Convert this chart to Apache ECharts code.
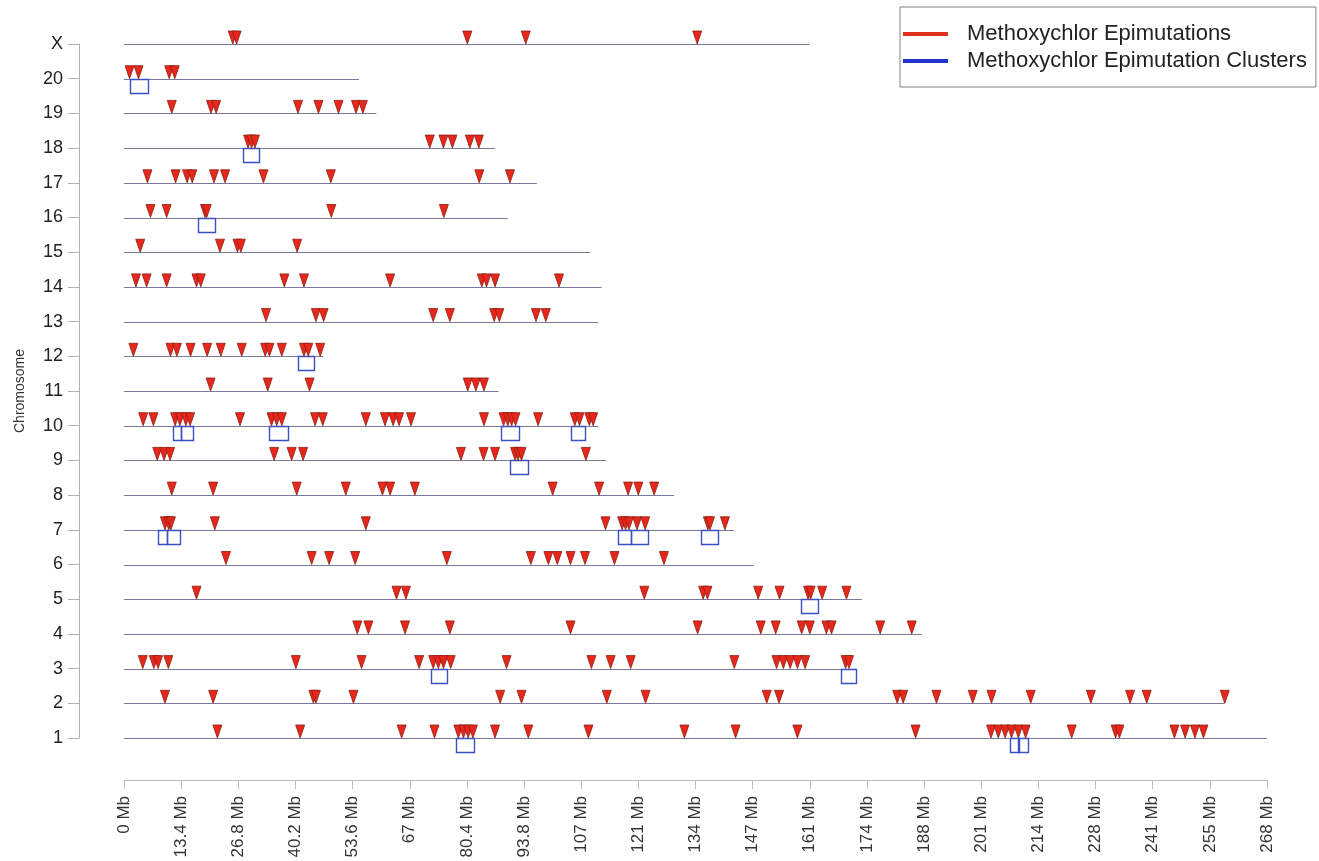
<!DOCTYPE html>
<html>
<head>
<meta charset="utf-8">
<script src="https://cdn.jsdelivr.net/npm/echarts@6/dist/echarts.min.js"></script>
<style>
html,body{margin:0;padding:0;background:#fff;}
#chart{width:1319px;height:861px;}
</style>
</head>
<body>
<div id="chart"></div>
<script>
// ---- DATA ----
const chromosomes = ['1','2','3','4','5','6','7','8','9','10','11','12','13','14','15','16','17','18','19','20','X'];
const chromLengthsMb = [268, 258, 171, 187, 173, 147.6, 143, 129, 113, 111.2, 87.8, 46.7, 111.2, 112, 109.3, 90, 96.8, 87, 59.2, 55.1, 160.7];
const xTickLabels = ['0 Mb','13.4 Mb','26.8 Mb','40.2 Mb','53.6 Mb','67 Mb','80.4 Mb','93.8 Mb','107 Mb','121 Mb','134 Mb','147 Mb','161 Mb','174 Mb','188 Mb','201 Mb','214 Mb','228 Mb','241 Mb','255 Mb','268 Mb'];

const epi1 = [21.9, 41.3, 65.1, 72.8, 78.4, 79.6, 80.7, 81.8, 87.0, 94.8, 108.9, 131.4, 143.4, 157.9, 185.6, 203.3, 205.0, 206.6, 208.1, 209.7, 211.4, 222.2, 232.5, 233.4, 246.3, 248.8, 251.1, 253.1];
const epi2 = [9.6, 20.9, 44.4, 45.0, 53.8, 88.2, 93.2, 113.2, 122.3, 150.7, 153.6, 181.3, 182.7, 190.5, 199.0, 203.4, 212.6, 226.7, 235.9, 239.8, 258.1];
const epi3 = [4.4, 7.0, 8.0, 10.4, 40.3, 55.7, 69.2, 72.5, 73.7, 74.9, 76.6, 89.7, 109.6, 114.1, 118.8, 143.1, 153.0, 154.6, 156.2, 157.9, 159.7, 169.2, 170.0];
const epi4 = [54.7, 57.3, 65.9, 76.4, 104.7, 134.5, 149.3, 152.8, 158.9, 160.8, 164.7, 165.9, 177.3, 184.7];
const epi5 = [17.0, 63.9, 66.1, 122.0, 135.8, 136.8, 148.7, 153.7, 160.4, 161.0, 163.7, 169.4];
const epi6 = [23.9, 44.0, 48.1, 54.2, 75.7, 95.4, 99.5, 101.6, 104.7, 108.1, 115.0, 126.6];
const epi7 = [9.6, 10.5, 11.0, 21.3, 56.7, 112.9, 116.8, 117.6, 118.4, 120.3, 122.2, 136.9, 137.4, 140.9];
const epi8 = [11.2, 20.9, 40.5, 52.0, 60.6, 62.4, 68.2, 100.5, 111.4, 118.2, 120.6, 124.3];
const epi9 = [7.8, 9.4, 10.8, 35.2, 39.3, 42.0, 79.0, 84.3, 87.0, 91.7, 92.4, 93.2, 108.3];
const epi10 = [4.5, 6.9, 12.0, 13.1, 14.5, 15.5, 27.2, 34.6, 35.8, 37.0, 44.8, 46.6, 56.7, 61.2, 63.1, 64.5, 67.3, 84.4, 89.0, 90.0, 90.9, 91.8, 97.1, 105.7, 106.8, 109.1, 110.0];
const epi11 = [20.3, 33.7, 43.5, 80.6, 82.5, 84.4];
const epi12 = [2.2, 10.9, 12.4, 15.6, 19.5, 22.7, 27.6, 33.1, 34.1, 37.0, 42.2, 43.2, 46.0];
const epi13 = [33.3, 45.0, 46.8, 72.5, 76.4, 86.8, 88.0, 96.6, 98.9];
const epi14 = [2.8, 5.3, 10.0, 17.0, 18.0, 37.6, 42.2, 62.4, 83.9, 85.0, 87.0, 102.0];
const epi15 = [3.8, 22.5, 26.6, 27.4, 40.6];
const epi16 = [6.2, 10.0, 19.0, 19.4, 48.6, 75.0];
const epi17 = [5.5, 12.1, 14.8, 16.0, 21.1, 23.7, 32.7, 48.5, 83.3, 90.5];
const epi18 = [29.1, 29.9, 30.7, 71.7, 74.9, 77.0, 81.1, 83.2];
const epi19 = [11.2, 20.4, 21.6, 40.8, 45.6, 50.3, 54.4, 56.0];
const epi20 = [1.3, 3.4, 10.6, 11.9];
const epiX = [25.5, 26.4, 80.5, 94.2, 134.4];

// clusters: [chromosome, start Mb, end Mb]
const clusterChrom = ['1','1','1','3','3','5','7','7','7','7','7','9','10','10','10','10','10','12','16','18','20'];
const clusterStart = [77.8, 207.7, 209.7, 71.9, 168.0, 158.7, 8.0, 10.0, 115.8, 118.8, 135.4, 90.5, 11.4, 13.3, 34.0, 88.4, 104.8, 40.9, 17.3, 28.0, 1.4];
const clusterEnd   = [82.1, 209.7, 212.0, 75.6, 171.4, 162.8, 10.0, 13.0, 118.8, 122.8, 139.3, 94.8, 13.3, 16.2, 38.5, 92.7, 108.1, 44.6, 21.4, 31.7, 5.6];

// ---- BUILD ----
const epiByChrom = [epi1, epi2, epi3, epi4, epi5, epi6, epi7, epi8, epi9, epi10, epi11, epi12, epi13, epi14, epi15, epi16, epi17, epi18, epi19, epi20, epiX];
const epiData = [];
epiByChrom.forEach(function (arr, i) {
  arr.forEach(function (mb) { epiData.push([mb, i + 1]); });
});
const lineData = chromLengthsMb.map(function (len, i) { return [0, len, i + 1]; });
const clusterData = clusterChrom.map(function (c, i) {
  return [clusterStart[i], clusterEnd[i], chromosomes.indexOf(c) + 1];
});

const FONT = 'Liberation Sans, Arial, Helvetica, sans-serif';
const chart = echarts.init(document.getElementById('chart'), null, { renderer: 'canvas' });

chart.setOption({
  backgroundColor: '#ffffff',
  animation: false,
  textStyle: { fontFamily: FONT },
  grid: { left: 124, right: 52, top: 44, bottom: 123, containLabel: false },
  legend: {
    orient: 'vertical',
    left: 900,
    top: 7,
    padding: [16, 9, 15, 3],
    itemGap: 5,
    itemWidth: 45,
    itemHeight: 4,
    selectedMode: false,
    borderColor: '#808080',
    borderWidth: 1,
    backgroundColor: '#ffffff',
    textStyle: { fontSize: 22, color: '#222', fontFamily: FONT, padding: [0, 0, 0, 14] },
    data: [
      { name: 'Methoxychlor Epimutations', icon: 'rect', itemStyle: { color: '#e0301e', borderWidth: 0 } },
      { name: 'Methoxychlor Epimutation Clusters', icon: 'rect', itemStyle: { color: '#2233cc', borderWidth: 0 } }
    ]
  },
  xAxis: {
    type: 'value',
    min: 0,
    max: 268,
    interval: 13.4,
    offset: 42,
    splitLine: { show: false },
    axisLine: { show: true, onZero: false, lineStyle: { color: '#bdbdbd', width: 1 } },
    axisTick: { show: true, length: 9, lineStyle: { color: '#bdbdbd' } },
    axisLabel: {
      rotate: 90,
      margin: 16,
      fontSize: 17,
      color: '#333',
      fontFamily: FONT,
      formatter: function (v) { return xTickLabels[Math.round(v / 13.4)] || ''; }
    }
  },
  yAxis: {
    type: 'value',
    min: 1,
    max: 21,
    interval: 1,
    offset: 45,
    name: 'Chromosome',
    nameLocation: 'middle',
    nameGap: 52,
    nameTextStyle: { fontSize: 14, color: '#333', fontFamily: FONT },
    splitLine: { show: false },
    axisLine: { show: true, onZero: false, lineStyle: { color: '#b0b0b0', width: 1 } },
    axisTick: { show: true, length: 11, lineStyle: { color: '#b0b0b0' } },
    axisLabel: {
      margin: 16,
      fontSize: 18,
      color: '#222',
      fontFamily: FONT,
      formatter: function (v) { return chromosomes[Math.round(v) - 1] || ''; }
    }
  },
  series: [
    {
      name: 'chromosomes',
      type: 'custom',
      silent: true,
      z: 1,
      data: lineData,
      encode: { x: [0, 1], y: 2 },
      renderItem: function (params, api) {
        const a = api.coord([api.value(0), api.value(2)]);
        const b = api.coord([api.value(1), api.value(2)]);
        return {
          type: 'line',
          shape: { x1: a[0], y1: Math.round(a[1]) + 0.5, x2: b[0], y2: Math.round(b[1]) + 0.5 },
          style: { stroke: '#777a9e', lineWidth: 1.2 }
        };
      }
    },
    {
      name: 'Methoxychlor Epimutation Clusters',
      type: 'custom',
      z: 2,
      data: clusterData,
      encode: { x: [0, 1], y: 2 },
      itemStyle: { color: '#2233cc' },
      renderItem: function (params, api) {
        const a = api.coord([api.value(0), api.value(2)]);
        const b = api.coord([api.value(1), api.value(2)]);
        return {
          type: 'rect',
          shape: { x: Math.round(a[0]) + 0.5, y: Math.round(a[1]) + 0.5, width: Math.round(b[0] - a[0]), height: 14 },
          style: { fill: 'none', stroke: '#3b4fc4', lineWidth: 1.4 }
        };
      }
    },
    {
      name: 'Methoxychlor Epimutations',
      type: 'scatter',
      z: 3,
      data: epiData,
      symbol: 'path://M0,0 L10,0 L5,14 Z',
      symbolSize: [9, 13],
      symbolOffset: [0, -6.5],
      itemStyle: { color: '#e8261b', borderColor: '#8e2013', borderWidth: 0.8, opacity: 1 }
    }
  ]
});
</script>
</body>
</html>
